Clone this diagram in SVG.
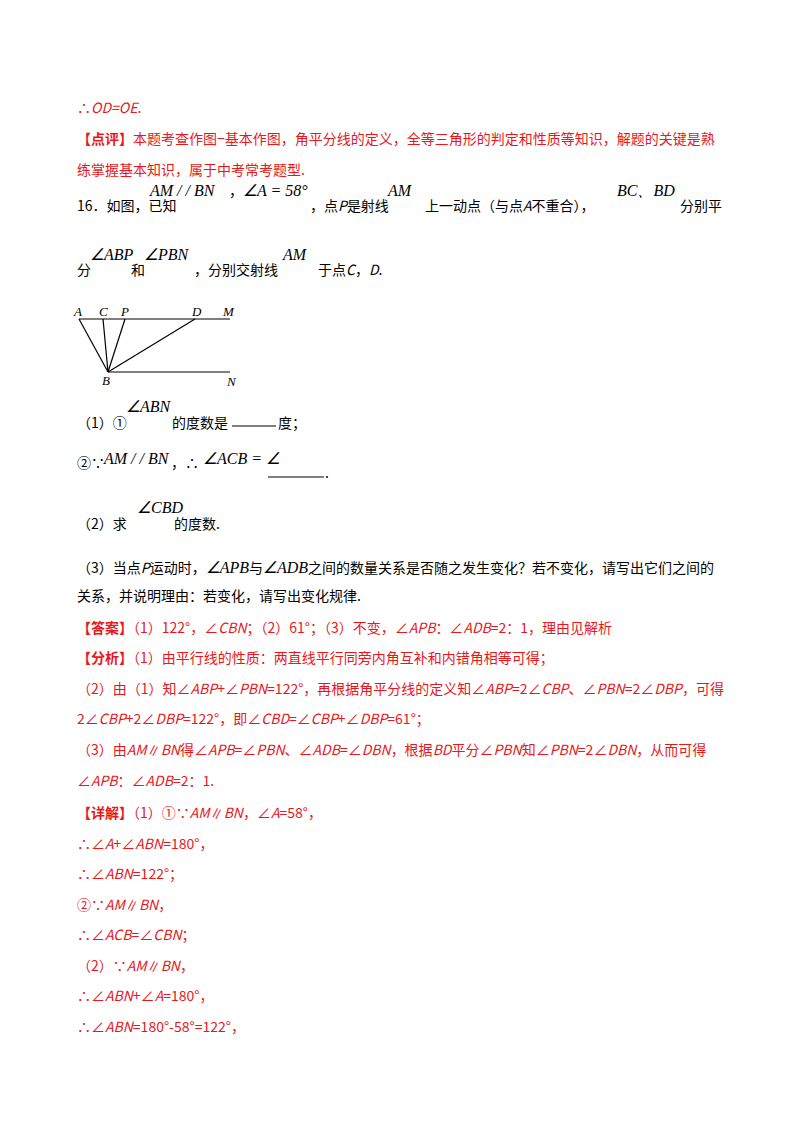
<svg xmlns="http://www.w3.org/2000/svg" width="800" height="1132" viewBox="0 0 800 1132">
<style>
text{font-family:"Noto Sans CJK SC","Noto Sans",sans-serif;font-size:14px;fill:#000}
.r{fill:#e8171b}
.m{font-family:"Liberation Serif","Times New Roman",serif;font-style:italic;font-size:16px}
.f{font-family:"Liberation Serif",serif;font-style:italic;font-size:13px}
line{stroke:#000;stroke-width:1.2}
</style>
<rect width="800" height="1132" fill="#fff"/>
<text x="77" y="113" class="r">∴<tspan font-style="italic">OD=OE</tspan>.</text>
<text x="77" y="144" class="r"><tspan font-weight="bold">【点评】</tspan>本题考查作图−基本作图，角平分线的定义，全等三角形的判定和性质等知识，解题的关键是熟</text>
<text x="77" y="175" class="r">练掌握基本知识，属于中考常考题型.</text>
<text x="77" y="211">16．如图，已知</text>
<text x="150" y="196" class="m">AM / / BN</text><text x="229" y="196">，</text><text x="243" y="196" class="m">∠A = 58°</text>
<text x="310" y="211">，点<tspan font-style="italic">P</tspan>是射线</text>
<text x="388" y="196" class="m">AM</text>
<text x="425" y="211">上一动点（与点<tspan font-style="italic">A</tspan>不重合），</text>
<text x="617" y="196" class="m">BC、BD</text>
<text x="680" y="211">分别平</text>
<text x="77" y="275">分</text><text x="90" y="260" class="m">∠ABP</text><text x="131" y="275">和</text><text x="144" y="260" class="m">∠PBN</text>
<text x="194" y="275">，分别交射线</text><text x="283" y="260" class="m">AM</text><text x="318" y="275">于点<tspan font-style="italic">C</tspan>，<tspan font-style="italic">D</tspan>.</text>
<g id="figure">
<line x1="79" y1="319" x2="230" y2="319"/>
<line x1="108" y1="372" x2="230" y2="372"/>
<line x1="79" y1="319" x2="108" y2="372"/>
<line x1="103" y1="319" x2="108" y2="372"/>
<line x1="125" y1="319" x2="108" y2="372"/>
<line x1="195" y1="319" x2="108" y2="372"/>
<text x="74" y="316" class="f">A</text><text x="99" y="316" class="f">C</text><text x="121" y="316" class="f">P</text><text x="192" y="316" class="f">D</text><text x="223" y="316" class="f">M</text>
<text x="102" y="385" class="f">B</text><text x="227" y="386" class="f">N</text>
</g>
<text x="77" y="428">（1）①</text><text x="126" y="412" class="m">∠ABN</text><text x="172" y="428">的度数是</text>
<line x1="232" y1="426" x2="276" y2="426"/><text x="278" y="428">度；</text>
<text x="77" y="468">②∵</text><text x="104" y="464" class="m">AM / / BN</text><text x="171" y="468">，∴</text>
<text x="203" y="464" class="m" font-size="13">∠ACB = ∠</text>
<line x1="268" y1="477" x2="324" y2="477"/><text x="325" y="478">.</text>
<text x="77" y="529">（2）求</text><text x="137" y="513" class="m">∠CBD</text><text x="174" y="529">的度数.</text>
<text x="77" y="573">（3）当点<tspan font-style="italic">P</tspan>运动时，<tspan class="m">∠APB</tspan>与<tspan class="m">∠ADB</tspan>之间的数量关系是否随之发生变化？若不变化，请写出它们之间的</text>
<text x="77" y="601">关系，并说明理由：若变化，请写出变化规律.</text>
<g class="r">
<text x="77" y="633" class="r"><tspan font-weight="bold">【答案】</tspan>（1）122°，∠<tspan font-style="italic">CBN</tspan>；（2）61°；（3）不变，∠<tspan font-style="italic">APB</tspan>：∠<tspan font-style="italic">ADB</tspan>=2：1，理由见解析</text>
<text x="77" y="663" class="r"><tspan font-weight="bold">【分析】</tspan>（1）由平行线的性质：两直线平行同旁内角互补和内错角相等可得；</text>
<text x="77" y="694" class="r">（2）由（1）知∠<tspan font-style="italic">ABP</tspan>+∠<tspan font-style="italic">PBN</tspan>=122°，再根据角平分线的定义知∠<tspan font-style="italic">ABP</tspan>=2∠<tspan font-style="italic">CBP</tspan>、∠<tspan font-style="italic">PBN</tspan>=2∠<tspan font-style="italic">DBP</tspan>，可得</text>
<text x="77" y="724" class="r">2∠<tspan font-style="italic">CBP</tspan>+2∠<tspan font-style="italic">DBP</tspan>=122°，即∠<tspan font-style="italic">CBD</tspan>=∠<tspan font-style="italic">CBP</tspan>+∠<tspan font-style="italic">DBP</tspan>=61°；</text>
<text x="77" y="755" class="r">（3）由<tspan font-style="italic">AM</tspan>∥<tspan font-style="italic">BN</tspan>得∠<tspan font-style="italic">APB</tspan>=∠<tspan font-style="italic">PBN</tspan>、∠<tspan font-style="italic">ADB</tspan>=∠<tspan font-style="italic">DBN</tspan>，根据<tspan font-style="italic">BD</tspan>平分∠<tspan font-style="italic">PBN</tspan>知∠<tspan font-style="italic">PBN</tspan>=2∠<tspan font-style="italic">DBN</tspan>，从而可得</text>
<text x="77" y="786" class="r">∠<tspan font-style="italic">APB</tspan>：∠<tspan font-style="italic">ADB</tspan>=2：1.</text>
<text x="77" y="818" class="r"><tspan font-weight="bold">【详解】</tspan>（1）①∵<tspan font-style="italic">AM</tspan>∥<tspan font-style="italic">BN</tspan>，∠<tspan font-style="italic">A</tspan>=58°，</text>
<text x="77" y="849" class="r">∴∠<tspan font-style="italic">A</tspan>+∠<tspan font-style="italic">ABN</tspan>=180°，</text>
<text x="77" y="879" class="r">∴∠<tspan font-style="italic">ABN</tspan>=122°；</text>
<text x="77" y="910" class="r">②∵<tspan font-style="italic">AM</tspan>∥<tspan font-style="italic">BN</tspan>，</text>
<text x="77" y="940" class="r">∴∠<tspan font-style="italic">ACB</tspan>=∠<tspan font-style="italic">CBN</tspan>；</text>
<text x="77" y="971" class="r">（2）∵<tspan font-style="italic">AM</tspan>∥<tspan font-style="italic">BN</tspan>，</text>
<text x="77" y="1001" class="r">∴∠<tspan font-style="italic">ABN</tspan>+∠<tspan font-style="italic">A</tspan>=180°，</text>
<text x="77" y="1032" class="r">∴∠<tspan font-style="italic">ABN</tspan>=180°-58°=122°，</text>
</g>
</svg>
